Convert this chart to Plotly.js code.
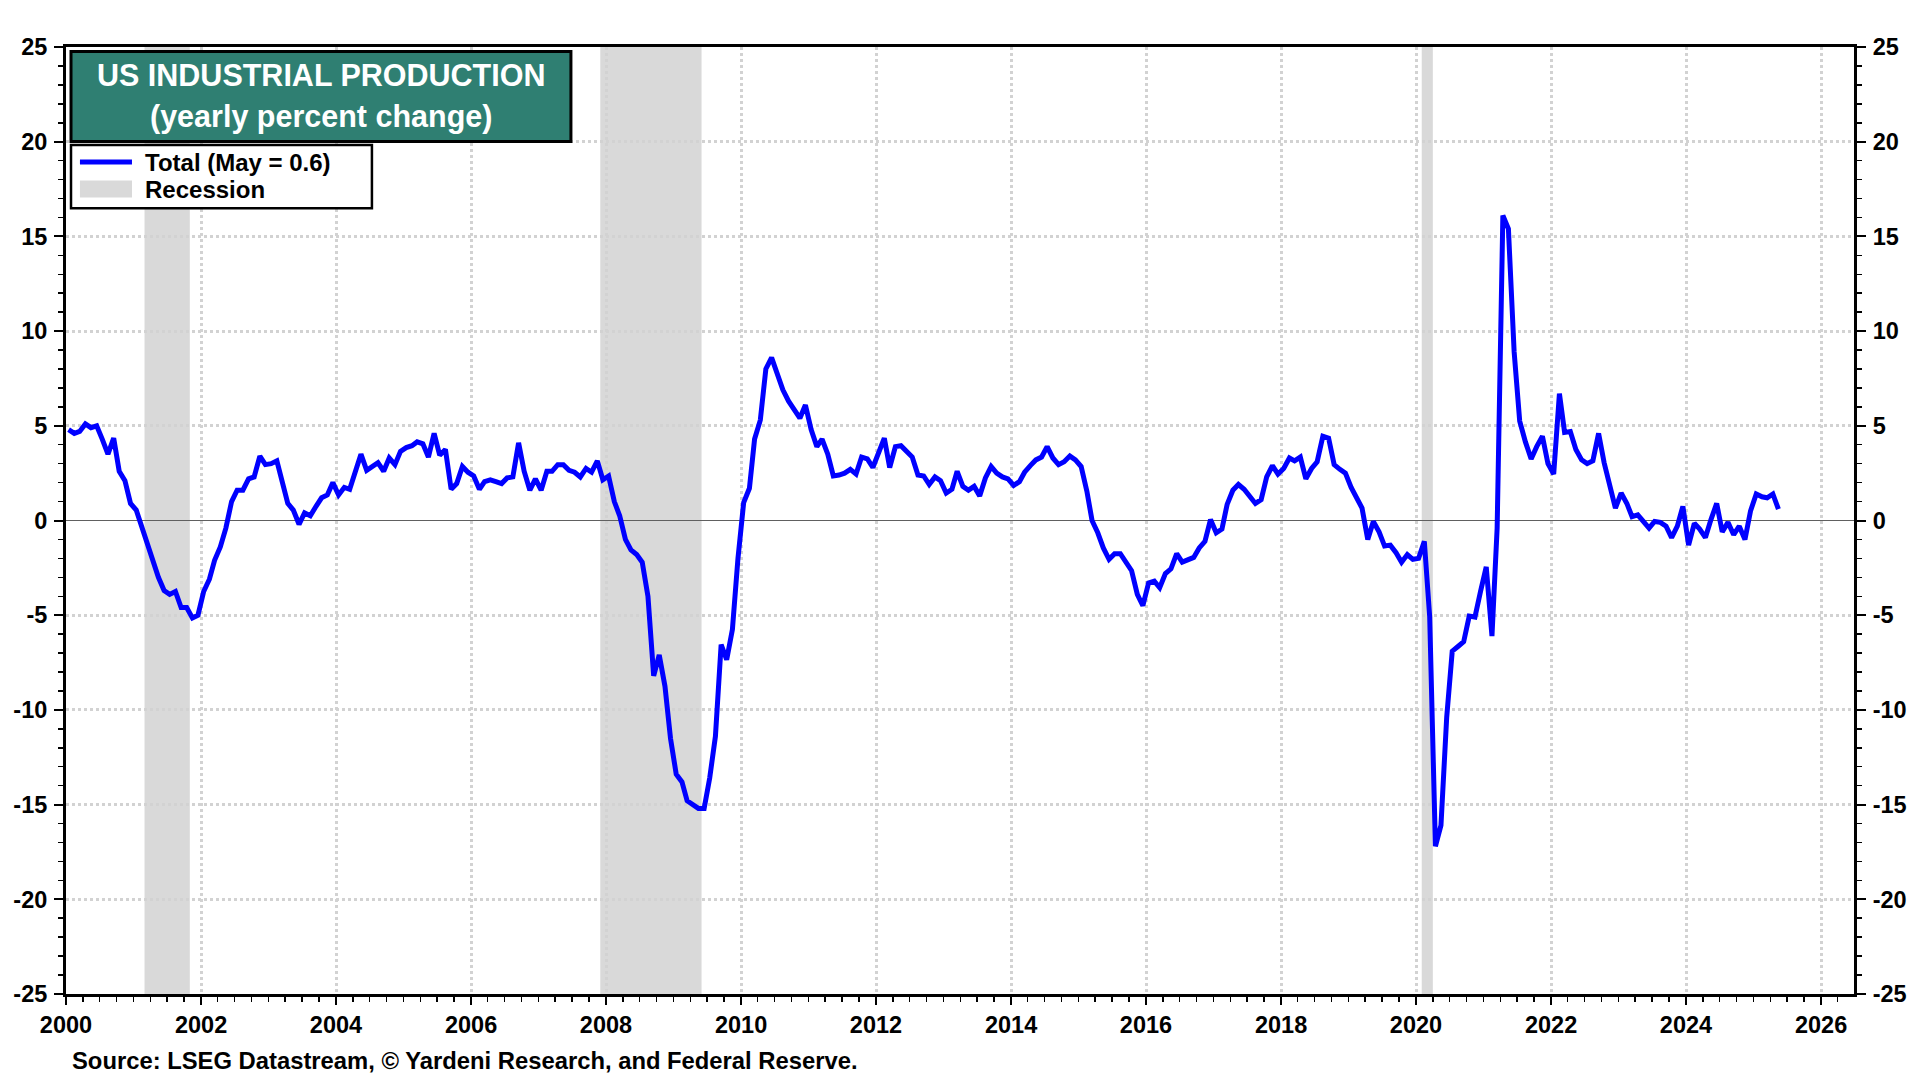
<!DOCTYPE html>
<html>
<head>
<meta charset="utf-8">
<script src="https://cdn.plot.ly/plotly-3.0.1.min.js"></script>
<style>
  html, body { margin: 0; padding: 0; background: #fff; }
  #chart { width: 1920px; height: 1080px; }
</style>
</head>
<body>
<div id="chart"></div>
<script>
// US industrial production, yearly % change, monthly from Jan 2000 (one row per year)
const firstYear = 2000;
const ipYoY = [
  4.8, 4.6, 4.7, 5.1, 4.9, 5.0, 4.3, 3.5, 4.35, 2.6, 2.1, 0.9,            // 2000
  0.55, -0.4, -1.2, -2.1, -3.0, -3.7, -3.9, -3.75, -4.6, -4.6, -5.15, -5.0, // 2001
  -3.75, -3.1, -2.1, -1.4, -0.4, 1.0, 1.6, 1.6, 2.2, 2.3, 3.4, 2.95,     // 2002
  3.0, 3.15, 2.0, 0.9, 0.55, -0.2, 0.4, 0.25, 0.75, 1.2, 1.35, 2.0,      // 2003
  1.35, 1.75, 1.65, 2.6, 3.5, 2.65, 2.85, 3.05, 2.6, 3.3, 2.95, 3.65,    // 2004
  3.85, 3.95, 4.15, 4.05, 3.35, 4.6, 3.45, 3.75, 1.65, 1.95, 2.85, 2.55, // 2005
  2.35, 1.65, 2.05, 2.15, 2.05, 1.95, 2.25, 2.3, 4.1, 2.6, 1.6, 2.2,     // 2006
  1.6, 2.6, 2.6, 2.95, 2.95, 2.65, 2.55, 2.3, 2.75, 2.55, 3.15, 2.15,    // 2007
  2.35, 1.0, 0.25, -1.0, -1.55, -1.8, -2.2, -4.0, -8.2, -7.1, -8.75, -11.5, // 2008
  -13.4, -13.8, -14.8, -15.0, -15.2, -15.2, -13.6, -11.4, -6.55, -7.35, -5.75, -2.0, // 2009
  0.95, 1.7, 4.3, 5.3, 8.0, 8.6, 7.7, 6.9, 6.3, 5.8, 5.4, 6.1,           // 2010
  4.8, 3.9, 4.3, 3.5, 2.35, 2.4, 2.5, 2.7, 2.45, 3.35, 3.25, 2.8,        // 2011
  3.6, 4.35, 2.8, 3.9, 3.95, 3.65, 3.35, 2.4, 2.35, 1.9, 2.3, 2.1,       // 2012
  1.45, 1.65, 2.6, 1.8, 1.6, 1.8, 1.3, 2.25, 2.85, 2.5, 2.3, 2.2,        // 2013
  1.85, 2.05, 2.55, 2.9, 3.2, 3.35, 3.9, 3.3, 2.95, 3.1, 3.4, 3.2,       // 2014
  2.85, 1.55, 0.0, -0.65, -1.45, -2.05, -1.75, -1.75, -2.25, -2.65, -3.9, -4.5, // 2015
  -3.3, -3.2, -3.55, -2.8, -2.55, -1.75, -2.2, -2.1, -1.95, -1.45, -1.1, 0.05,  // 2016
  -0.65, -0.45, 0.85, 1.6, 1.9, 1.65, 1.3, 0.9, 1.1, 2.3, 2.9, 2.45,     // 2017
  2.75, 3.3, 3.15, 3.35, 2.2, 2.75, 3.1, 4.45, 4.35, 2.95, 2.7, 2.5,     // 2018
  1.75, 1.2, 0.65, -1.0, -0.05, -0.6, -1.35, -1.3, -1.7, -2.2, -1.8, -2.05, // 2019
  -2.0, -1.1, -5.07, -17.2, -16.1, -10.4, -6.9, -6.65, -6.4, -5.05, -5.1, -3.75, // 2020
  -2.45, -6.1, -0.4, 16.1, 15.4, 8.9, 5.25, 4.15, 3.25, 3.9, 4.45, 3.0,  // 2021
  2.45, 6.7, 4.65, 4.7, 3.75, 3.2, 3.0, 3.15, 4.6, 3.05, 1.85, 0.65,     // 2022
  1.45, 0.9, 0.2, 0.3, -0.05, -0.4, -0.05, -0.1, -0.3, -0.9, -0.3, 0.75, // 2023
  -1.3, -0.15, -0.45, -0.9, 0.05, 0.9, -0.6, -0.1, -0.75, -0.3, -1.0, 0.5, // 2024
  1.4, 1.25, 1.2, 1.4, 0.6                                               // 2025
];

// NBER recessions (peak month to trough month)
const recessionStart = ['2001-03-01', '2007-12-01', '2020-02-01'];
const recessionEnd   = ['2001-11-01', '2009-06-01', '2020-04-01'];

// y tick values and labels (plain hyphen for negatives, as in the original)
const yTickVals = [-25, -20, -15, -10, -5, 0, 5, 10, 15, 20, 25];
const yTickText = ['-25', '-20', '-15', '-10', '-5', '0', '5', '10', '15', '20', '25'];

const monthNames = ['Jan','Feb','Mar','Apr','May','Jun','Jul','Aug','Sep','Oct','Nov','Dec'];

// month dates for each observation
const dates = ipYoY.map((v, i) => {
  const yr = firstYear + Math.floor(i / 12);
  const mo = (i % 12) + 1;
  return `${yr}-${String(mo).padStart(2, '0')}-15`;
});
const lastIdx = ipYoY.length - 1;
const legendLabel = `Total (${monthNames[lastIdx % 12]} = ${ipYoY[lastIdx].toFixed(1)})`;

const FONT = 'Arial, "Liberation Sans", Helvetica, sans-serif';
const BLUE = '#0000ff';
const TEAL = '#2f7f72';
const GRID = '#d2d2d2';
const SHADE = '#d9d9d9';

const tickFont = { family: FONT, size: 23.5, color: '#000', weight: 700 };

const line = {
  x: dates,
  y: ipYoY,
  type: 'scatter',
  mode: 'lines',
  line: { color: BLUE, width: 5 },
  hoverinfo: 'skip',
  showlegend: false
};

// same series on the right-hand axis, invisible, so that axis gets drawn
const rightAxisCarrier = {
  x: dates,
  y: ipYoY,
  yaxis: 'y2',
  type: 'scatter',
  mode: 'lines',
  line: { color: 'rgba(0,0,0,0)', width: 0 },
  opacity: 0,
  hoverinfo: 'skip',
  showlegend: false
};

// recession bands behind the grid
const shapes = recessionStart.map((s, i) => ({
  type: 'rect', xref: 'x', yref: 'paper', layer: 'below',
  x0: s, x1: recessionEnd[i], y0: 0, y1: 1,
  fillcolor: SHADE, line: { width: 0 }
}));

// title box
shapes.push({
  type: 'rect', xref: 'paper', yref: 'paper', layer: 'above',
  x0: 0.0028, x1: 0.2824, y0: 0.9003, y1: 0.9953,
  fillcolor: TEAL, line: { color: '#000', width: 3 }
});
// legend box
shapes.push({
  type: 'rect', xref: 'paper', yref: 'paper', layer: 'above',
  x0: 0.0028, x1: 0.1711, y0: 0.8296, y1: 0.8966,
  fillcolor: '#fff', line: { color: '#000', width: 2.5 }
});
// legend swatches
shapes.push({
  type: 'line', xref: 'paper', yref: 'paper', layer: 'above',
  x0: 0.0078, x1: 0.0369, y0: 0.8785, y1: 0.8785,
  line: { color: BLUE, width: 5 }
});
shapes.push({
  type: 'rect', xref: 'paper', yref: 'paper', layer: 'above',
  x0: 0.0078, x1: 0.0369, y0: 0.8412, y1: 0.8591,
  fillcolor: SHADE, line: { width: 0 }
});

const annotations = [
  {
    text: 'US INDUSTRIAL PRODUCTION', xref: 'paper', yref: 'paper',
    x: 0.1426, y: 0.9702, xanchor: 'center', yanchor: 'middle', showarrow: false,
    font: { family: FONT, size: 30.5, color: '#fff', weight: 700 }
  },
  {
    text: '(yearly percent change)', xref: 'paper', yref: 'paper',
    x: 0.1426, y: 0.9266, xanchor: 'center', yanchor: 'middle', showarrow: false,
    font: { family: FONT, size: 30.5, color: '#fff', weight: 700 }
  },
  {
    text: legendLabel, xref: 'paper', yref: 'paper',
    x: 0.0431, y: 0.8785, xanchor: 'left', yanchor: 'middle', showarrow: false,
    font: { family: FONT, size: 24, color: '#000', weight: 700 }
  },
  {
    text: 'Recession', xref: 'paper', yref: 'paper',
    x: 0.0431, y: 0.8500, xanchor: 'left', yanchor: 'middle', showarrow: false,
    font: { family: FONT, size: 24, color: '#000', weight: 700 }
  },
  {
    text: 'Source: LSEG Datastream, © Yardeni Research, and Federal Reserve.',
    xref: 'paper', yref: 'paper',
    x: 0.0022, y: -0.0707, xanchor: 'left', yanchor: 'middle', showarrow: false,
    font: { family: FONT, size: 23.8, color: '#000', weight: 700 }
  }
];

const yCommon = {
  range: [-25, 25],
  tickmode: 'array',
  tickvals: yTickVals,
  ticktext: yTickText,
  ticks: 'outside',
  ticklen: 9,
  tickwidth: 2,
  tickcolor: '#000',
  showline: true,
  linecolor: '#000',
  linewidth: 3,
  tickfont: tickFont,
  ticklabelstandoff: 2,
  minor: { tick0: 0, dtick: 1, ticks: 'outside', ticklen: 5, tickwidth: 1.5, tickcolor: '#000', showgrid: false },
  fixedrange: true
};

const layout = {
  width: 1920,
  height: 1080,
  margin: { l: 66, r: 66, t: 47, b: 86, pad: 0 },
  paper_bgcolor: '#fff',
  plot_bgcolor: 'rgba(0,0,0,0)',
  showlegend: false,
  font: { family: FONT, color: '#000' },
  xaxis: {
    type: 'date',
    range: ['2000-01-01', '2026-06-28'],
    tick0: '2000-01-01',
    dtick: 'M24',
    tickformat: '%Y',
    ticks: 'outside',
    ticklen: 8,
    tickwidth: 2,
    tickcolor: '#000',
    showline: true,
    mirror: true,
    linecolor: '#000',
    linewidth: 3,
    showgrid: true,
    gridcolor: GRID,
    griddash: '3px,3px',
    gridwidth: 3,
    tickfont: tickFont,
    ticklabelstandoff: 0,
    minor: { dtick: 'M3', tick0: '2000-01-01', ticks: 'outside', ticklen: 5, tickwidth: 1.5, tickcolor: '#000', showgrid: false },
    fixedrange: true
  },
  yaxis: Object.assign({}, yCommon, {
    showgrid: true,
    gridcolor: GRID,
    griddash: '3px,3px',
    gridwidth: 3,
    zeroline: true,
    zerolinecolor: '#606060',
    zerolinewidth: 1.5
  }),
  yaxis2: Object.assign({}, yCommon, {
    overlaying: 'y',
    side: 'right',
    showgrid: false,
    zeroline: false
  }),
  shapes: shapes,
  annotations: annotations
};

Plotly.newPlot('chart', [line, rightAxisCarrier], layout, { displayModeBar: false, staticPlot: true });
</script>
</body>
</html>
